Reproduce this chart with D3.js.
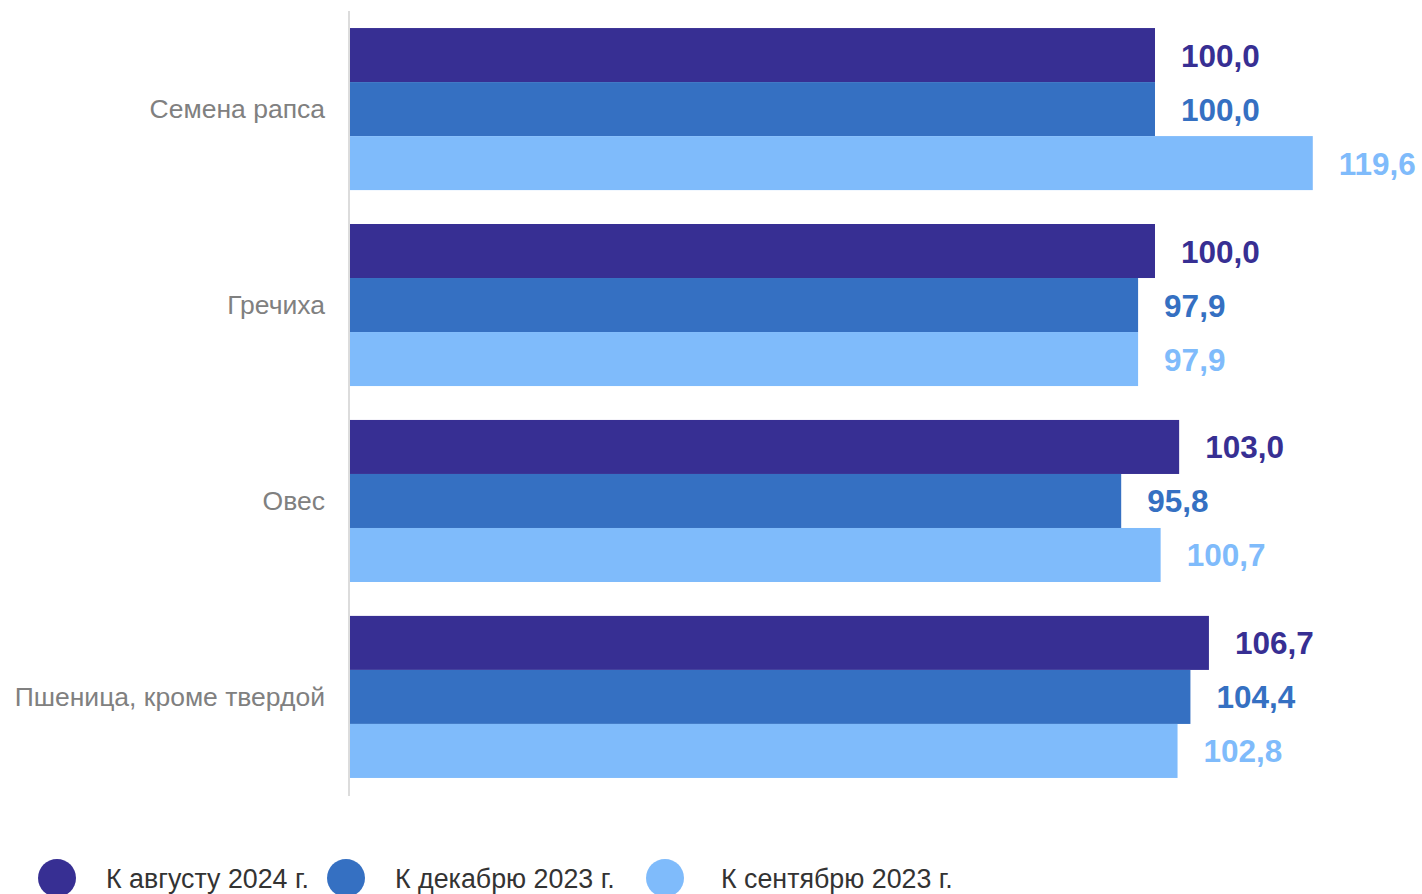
<!DOCTYPE html>
<html><head><meta charset="utf-8">
<script src="https://cdn.jsdelivr.net/npm/d3@7"></script>
<style>body{margin:0;background:#fff;}svg{display:block;font-family:"Liberation Sans",Arial,sans-serif;}</style>
</head><body>
<svg id="c" width="1422" height="894"></svg>
<script>
const categories = ["Семена рапса", "Гречиха", "Овес", "Пшеница, кроме твердой"];
const seriesNames = ["К августу 2024 г.", "К декабрю 2023 г.", "К сентябрю 2023 г."];
const seriesColors = ["#372F93", "#3570C2", "#7FBBFB"];
const aug2024 = [100.0, 100.0, 103.0, 106.7];
const dec2023 = [100.0, 97.9, 95.8, 104.4];
const sep2023 = [119.6, 97.9, 100.7, 102.8];
const series = [aug2024, dec2023, sep2023];

const svg = d3.select("#c");
const fmt = v => d3.format(".1f")(v).replace(".", ",");

const y = d3.scaleBand().domain(categories).range([11, 795]).paddingInner(0.173).paddingOuter(0.087);
const ys = d3.scaleBand().domain(d3.range(series.length)).range([0, y.bandwidth()]);
const x = d3.scaleLinear().domain([0, 100]).range([350, 1155]);

const g = svg.append("g");
categories.forEach((c, i) => {
  series.forEach((s, k) => {
    g.append("rect")
      .attr("x", x(0))
      .attr("y", y(c) + ys(k))
      .attr("width", x(s[i]) - x(0))
      .attr("height", ys.bandwidth())
      .attr("fill", seriesColors[k]);
    g.append("text")
      .attr("x", x(s[i]) + 26)
      .attr("y", y(c) + ys(k) + ys.bandwidth() / 2 + 0.5)
      .attr("dominant-baseline", "central")
      .attr("font-size", 31.5)
      .attr("font-weight", "bold")
      .attr("fill", seriesColors[k])
      .text(fmt(s[i]));
  });
  g.append("text")
    .attr("x", 325)
    .attr("y", y(c) + y.bandwidth() / 2)
    .attr("dominant-baseline", "central")
    .attr("text-anchor", "end")
    .attr("font-size", 26.5)
    .attr("fill", "#808080")
    .text(c);
});

svg.append("line").attr("x1", 349).attr("x2", 349).attr("y1", 11).attr("y2", 796)
  .attr("stroke", "#dcdcdc").attr("stroke-width", 2);

const legX = [57, 346, 665];
const legTextX = [106, 395, 721];
const leg = svg.append("g");
seriesNames.forEach((n, k) => {
  leg.append("circle").attr("cx", legX[k]).attr("cy", 878).attr("r", 19).attr("fill", seriesColors[k]);
  leg.append("text").attr("x", legTextX[k]).attr("y", 888).attr("font-size", 26.8).attr("fill", "#333").text(n);
});
</script>
</body></html>
